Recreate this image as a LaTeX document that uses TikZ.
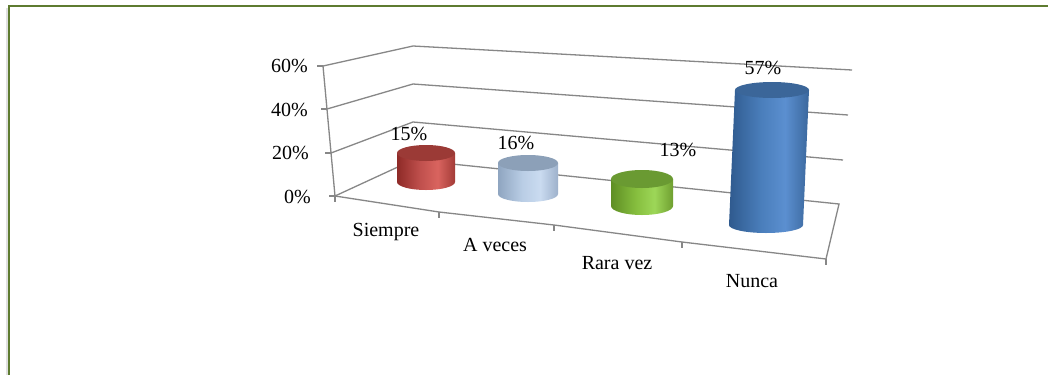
\documentclass[tikz,border=0pt]{standalone}
\usepackage{fontspec}
\setmainfont{Liberation Serif}
\definecolor{frameC}{HTML}{5E7B30}
\definecolor{gridC}{HTML}{878787}
\definecolor{rA}{HTML}{8E2A27}\definecolor{rB}{HTML}{C0504D}\definecolor{rC}{HTML}{D9645F}\definecolor{rD}{HTML}{A33B37}\definecolor{rT}{HTML}{9B3A36}
\definecolor{lA}{HTML}{8FA5C0}\definecolor{lB}{HTML}{B9CDE5}\definecolor{lC}{HTML}{CADBF0}\definecolor{lD}{HTML}{9DB1CB}\definecolor{lT}{HTML}{8CA0B8}
\definecolor{gA}{HTML}{5E8E24}\definecolor{gB}{HTML}{86BE3E}\definecolor{gC}{HTML}{9DD758}\definecolor{gD}{HTML}{6F9F30}\definecolor{gT}{HTML}{6A9A32}
\definecolor{bA}{HTML}{2F5A8E}\definecolor{bB}{HTML}{4A7EBB}\definecolor{bC}{HTML}{5B8FD0}\definecolor{bD}{HTML}{3A679C}\definecolor{bT}{HTML}{3B6699}
\pgfdeclarehorizontalshading{cylr}{100bp}{color(0bp)=(rA); color(25bp)=(rA); color(45bp)=(rB); color(60bp)=(rC); color(75bp)=(rD); color(100bp)=(rD)}
\pgfdeclarehorizontalshading{cyll}{100bp}{color(0bp)=(lA); color(25bp)=(lA); color(45bp)=(lB); color(60bp)=(lC); color(75bp)=(lD); color(100bp)=(lD)}
\pgfdeclarehorizontalshading{cylg}{100bp}{color(0bp)=(gA); color(25bp)=(gA); color(45bp)=(gB); color(60bp)=(gC); color(75bp)=(gD); color(100bp)=(gD)}
\pgfdeclarehorizontalshading{cylb}{100bp}{color(0bp)=(bA); color(25bp)=(bA); color(45bp)=(bB); color(60bp)=(bC); color(75bp)=(bD); color(100bp)=(bD)}
\tikzset{
  framel/.style={draw=frameC, line width=2pt},
  gridl/.style={draw=gridC, line width=1.3pt},
  lbl/.style={font=\fontsize{20}{24}\selectfont, inner sep=0pt},
}
\begin{document}
\begin{tikzpicture}[x=1pt,y=-1pt]
\useasboundingbox[fill=white] (0,0) rectangle (1048,375);
% frame
\draw[black!12, line width=2pt] (6.5,375) -- (6.5,8);
\draw[framel] (9,375) -- (9,6) -- (1048,6);
% axis coordinates
\coordinate (a60) at (323,66);
\coordinate (a40) at (327,109);
\coordinate (a20) at (331,153);
\coordinate (a0) at (335,196);
\coordinate (k60) at (413,46);
\coordinate (k40) at (413,84);
\coordinate (k20) at (413,122);
\coordinate (k0) at (413,160);
\coordinate (r60) at (852,70);
\coordinate (r40) at (848,115);
\coordinate (r20) at (843,160);
\coordinate (r0) at (839,204);
\coordinate (f1) at (439,212);
\coordinate (f2) at (554,225);
\coordinate (f3) at (682,242);
\coordinate (f4) at (826,259);
% walls and grid
\draw[gridl] (a60) -- (k60) -- (r60);
\draw[gridl] (a40) -- (k40) -- (r40);
\draw[gridl] (a20) -- (k20) -- (r20);
\draw[gridl] (a0) -- (k0) -- (r0) -- (f4);
\draw[gridl] (a60) -- (a0) -- (f1) -- (f2) -- (f3) -- (f4);
% ticks
\foreach \p in {a60,a40,a20,a0} \draw[gridl] (\p) -- ++(-6,0);
\draw[gridl] (a0) -- ++(0,6);
\foreach \p in {f1,f2,f3,f4} \draw[gridl] (\p) -- ++(0,6);
% axis labels
\node[lbl, anchor=east] (y60) at (308,66) {60\%};
\node[lbl, anchor=east] (y40) at (308,110) {40\%};
\node[lbl, anchor=east] (y20) at (309,153) {20\%};
\node[lbl, anchor=east] (y0) at (311,197) {0\%};
% cylinders
\shade[shading=cylr] (397,153) -- (397,182) arc (180:360:29pt and 8pt) -- (455,153) -- cycle;
\fill[rT] (426,153) ellipse [x radius=29pt, y radius=8pt];
\shade[shading=cyll] (498,163) -- (498,194) arc (180:360:30pt and 8pt) -- (558,163) -- cycle;
\fill[lT] (528,163) ellipse [x radius=30pt, y radius=8pt];
\shade[shading=cylg] (611,179) -- (611,206) arc (180:360:31pt and 9pt) -- (673,179) -- cycle;
\fill[gT] (642,179) ellipse [x radius=31pt, y radius=9pt];
\shade[shading=cylb] (735,90) -- (729,225) arc (180:360:37pt and 8pt) -- (809,90) -- cycle;
\fill[bT] (772,90) ellipse [x radius=37pt, y radius=8pt];
% data labels
\node[lbl] (v1) at (409,134) {15\%};
\node[lbl] (v2) at (516,143) {16\%};
\node[lbl] (v3) at (678,150) {13\%};
\node[lbl] (v4) at (763,68) {57\%};
% category labels
\node[lbl] (c1) at (386,232) {Siempre};
\node[lbl] (c2) at (495,245) {A veces};
\node[lbl] (c3) at (617,263) {Rara vez};
\node[lbl] (c4) at (752,281) {Nunca};
\end{tikzpicture}
\end{document}
